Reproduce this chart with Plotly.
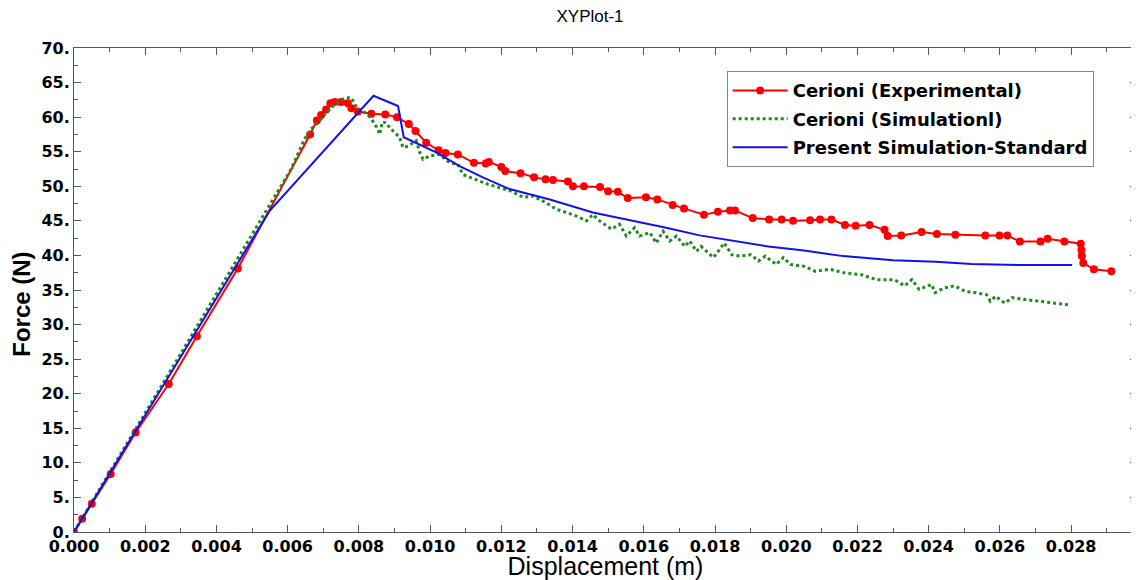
import plotly.graph_objects as go

# ---------------- data (displacement in mm -> converted to m) ----------------
exp_x_mm = [0, 0.23, 0.50, 1.03, 1.73, 2.66, 3.45, 4.6, 6.63, 6.82,
            6.94, 7.08, 7.2, 7.32, 7.5, 7.69, 7.79, 7.97, 8.35, 8.74,
            9.07, 9.4, 9.59, 9.89, 10.24, 10.43, 10.78, 11.23, 11.56, 11.65,
            12.0, 12.11, 12.54, 12.92, 13.24, 13.45, 13.87, 14.01, 14.32, 14.77,
            15.0, 15.27, 15.55, 16.06, 16.38, 16.81, 17.13, 17.69, 18.08, 18.42,
            18.56, 19.06, 19.52, 19.87, 20.19, 20.67, 20.95, 21.27, 21.65, 21.95,
            22.34, 22.76, 22.85, 23.23, 23.8, 24.23, 24.75, 25.59, 25.99, 26.21,
            26.56, 27.14, 27.34, 27.81, 28.27, 28.29, 28.30, 28.34, 28.64, 29.13]
exp_force = [0, 1.9, 4.1, 8.4, 14.4, 21.4, 28.3, 38.1, 57.5, 59.5,
             60.3, 61.1, 62.0, 62.2, 62.2, 62.0, 61.3, 60.8, 60.5, 60.4,
             60.0, 59.0, 58.0, 56.3, 55.2, 54.8, 54.6, 53.4, 53.3, 53.5,
             52.8, 52.2, 51.9, 51.3, 51.0, 50.9, 50.7, 50.0, 50.0, 49.9,
             49.3, 49.2, 48.3, 48.4, 48.1, 47.3, 46.8, 45.9, 46.3, 46.5,
             46.5, 45.4, 45.2, 45.2, 45.0, 45.1, 45.2, 45.2, 44.4, 44.3,
             44.4, 43.7, 42.8, 42.9, 43.4, 43.1, 43.0, 42.9, 42.9, 42.9,
             42.0, 42.0, 42.4, 42.0, 41.7, 40.8, 39.9, 38.9, 38.0, 37.7]

sim_x_mm = [0, 6.1, 6.47, 6.66, 6.85, 7.04, 7.27, 7.46, 7.63, 7.79,
            7.88, 8.02, 8.16, 8.35, 8.44, 8.53, 8.58, 8.66, 8.77, 8.86,
            9.0, 9.14, 9.19, 9.24, 9.38, 9.61, 9.71, 9.8, 9.99, 10.27,
            10.55, 10.78, 10.92, 11.25, 11.62, 11.95, 12.28, 12.61, 12.89, 13.26,
            13.54, 13.83, 14.11, 14.39, 14.57, 14.76, 15.09, 15.32, 15.51, 15.74,
            15.88, 16.17, 16.35, 16.54, 16.73, 16.92, 17.15, 17.29, 17.48, 17.61,
            17.96, 18.26, 18.47, 18.71, 19.01, 19.22, 19.41, 19.72, 19.92, 20.12,
            20.52, 20.82, 21.22, 21.62, 22.12, 22.52, 23.03, 23.33, 23.53, 23.73,
            24.08, 24.18, 24.43, 24.73, 25.03, 25.33, 25.63, 25.73, 25.88, 26.14,
            26.34, 26.74, 27.14, 27.54, 27.99]
sim_force = [0, 52.5, 56.8, 58.3, 59.2, 60.4, 61.6, 62.4, 62.8, 62.8,
             61.9, 60.9, 60.7, 59.8, 59.0, 58.3, 57.5, 59.3, 59.2, 58.5,
             57.8, 57.1, 56.3, 55.6, 55.8, 56.6, 54.9, 53.9, 54.4, 54.6,
             53.4, 53.2, 51.7, 51.0, 50.3, 49.8, 49.3, 48.4, 48.6, 47.6,
             46.7, 46.2, 45.7, 45.0, 45.9, 45.0, 43.8, 44.5, 42.8, 44.0,
             42.8, 43.3, 41.8, 43.5, 42.1, 42.8, 41.3, 42.1, 40.6, 41.3,
             39.7, 41.8, 40.1, 39.9, 40.1, 39.2, 39.9, 38.7, 39.7, 38.7,
             38.4, 37.7, 38.0, 37.5, 37.2, 36.5, 36.5, 35.6, 36.5, 35.1,
             35.8, 34.6, 35.3, 35.6, 34.8, 34.6, 34.3, 33.4, 34.1, 33.1,
             33.9, 33.6, 33.4, 33.1, 32.8]

std_x_mm = [0, 5.5, 8.41, 9.1, 9.26, 9.47, 10.17, 10.83, 11.48, 12.23,
            13.36, 14.57, 15.7, 16.63, 17.57, 18.5, 19.5, 20.5, 21.6, 23.0,
            24.2, 25.2, 26.7, 28.03]
std_force = [0, 46.5, 63.1, 61.6, 57.1, 56.6, 54.9, 52.9, 51.3, 49.6,
             48.1, 46.2, 45.0, 44.0, 42.9, 42.1, 41.3, 40.7, 39.9, 39.3,
             39.1, 38.75, 38.6, 38.6]

names = ["Cerioni (Experimental)", "Cerioni (Simulationl)", "Present Simulation-Standard"]
y_ticks = list(range(0, 75, 5))
y_ticktext = [f"{v}." for v in y_ticks]

assert len(exp_x_mm) == len(exp_force)
assert len(sim_x_mm) == len(sim_force)
assert len(std_x_mm) == len(std_force)

to_m = lambda arr: [v / 1000.0 for v in arr]

fig = go.Figure()
fig.add_trace(go.Scatter(
    x=to_m(exp_x_mm), y=exp_force, name=names[0], mode="lines+markers",
    line=dict(color="#ff0000", width=2),
    marker=dict(color="#ff0000", size=8, symbol="circle"),
    legendgroup="a"))
fig.add_trace(go.Scatter(
    x=to_m(sim_x_mm), y=sim_force, name=names[1], mode="lines",
    line=dict(color="#1e8a1e", width=3, dash="dot"),
    legendgroup="b"))
fig.add_trace(go.Scatter(
    x=to_m(std_x_mm), y=std_force, name=names[2], mode="lines",
    line=dict(color="#1010f0", width=2),
    legendgroup="c"))

tick_font = dict(family="DejaVu Sans", size=16, color="black", weight="bold")
axis_common = dict(
    showgrid=False, zeroline=False, showline=True, linecolor="#555555", linewidth=1,
    mirror="allticks", ticks="inside", ticklen=7, tickcolor="#555555",
    tickfont=tick_font,
)

fig.update_xaxes(
    range=[0, 0.02985], dtick=0.002, tick0=0, tickformat=".3f",
    minor=dict(dtick=0.001, ticks="inside", ticklen=4, tickcolor="#555555"),
    title=dict(text="Displacement (m)", standoff=5,
               font=dict(family="Liberation Sans", size=25, color="black")),
    **axis_common)
fig.update_yaxes(
    range=[0, 70], tickvals=y_ticks, ticktext=y_ticktext,
    minor=dict(dtick=2.5, ticks="inside", ticklen=4, tickcolor="#555555"),
    **axis_common)

# y-axis title placed as annotation (sits a little below the plot centre in the reference)
fig.add_annotation(
    text="Force (N)", xref="paper", yref="paper", x=-0.049, y=0.4714,
    xanchor="center", yanchor="middle", textangle=-90, showarrow=False,
    font=dict(family="Liberation Sans", size=24, color="black", weight="bold"))

# page has an 8px body margin: figure is offset by (8, 8) in the window
fig.update_layout(
    width=1131, height=572,
    margin=dict(l=66, r=2, t=40, b=48),
    paper_bgcolor="white", plot_bgcolor="white",
    title=dict(text="XYPlot-1", x=0.5146, xanchor="center", y=1 - 8 / 572, yanchor="middle",
               font=dict(family="Liberation Sans", size=17, color="black")),
    legend=dict(x=0.614, y=0.952, xanchor="left", yanchor="top",
                bordercolor="#888888", borderwidth=1, bgcolor="white",
                font=dict(family="DejaVu Sans", size=18, color="black", weight="bold"),
                tracegroupgap=2, itemwidth=55),
    showlegend=True,
)

fig.write_html("out.html")
